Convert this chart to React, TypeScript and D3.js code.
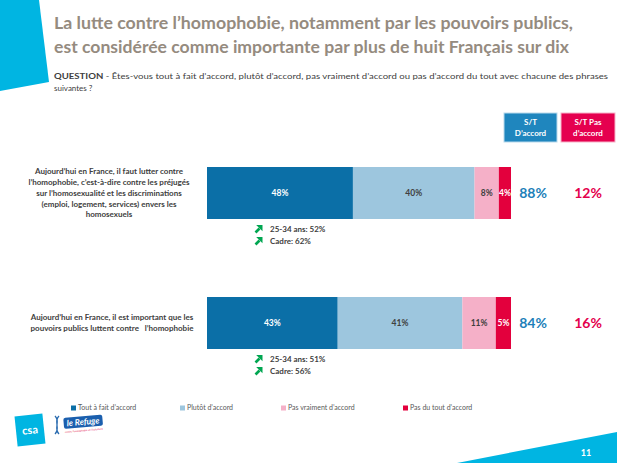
import React from "react";
import * as d3 from "d3";

// statements (already split in lines as on the slide)
const statements = [
  [
    "Aujourd’hui en France, il faut lutter contre",
    "l’homophobie, c’est-à-dire contre les préjugés",
    "sur l’homosexualité et les discriminations",
    "(emploi, logement, services) envers les",
    "homosexuels",
  ],
  [
    "Aujourd’hui en France, il est important que les",
    "pouvoirs publics luttent contre \u00a0\u00a0l’homophobie",
  ],
];

const seriesNames = [
  "Tout à fait d’accord",
  "Plutôt d’accord",
  "Pas vraiment d’accord",
  "Pas du tout d’accord",
];
const toutAFait = [48, 43];
const plutot = [40, 41];
const pasVraiment = [8, 11];
const pasDuTout = [4, 5];
const stAccord = [88, 84];
const stPasAccord = [12, 16];
const highlights = [
  ["25-34 ans: 52%", "Cadre: 62%"],
  ["25-34 ans: 51%", "Cadre: 56%"],
];

const colors = ["#0b6fa7", "#9dc6de", "#f5b0c8", "#e3003d"];
const labelColors = ["#ffffff", "#404040", "#404040", "#ffffff"];

const FONT = "Lato, 'Open Sans', sans-serif";
const TEXT = "#404040";

const Arrow = ({ x, y }: { x: number; y: number }) => (
  <g transform={`translate(${x},${y})`}>
    <path d="M0.5,7.5 L4.5,3.5" stroke="#00a651" strokeWidth={2.6} />
    <path d="M1.2,0 L7.5,0 L7.5,6.3 Z" fill="#00a651" />
  </g>
);

export default function App() {
  const rows = statements.map((s, i) => ({
    key: i,
    v0: toutAFait[i],
    v1: plutot[i],
    v2: pasVraiment[i],
    v3: pasDuTout[i],
  }));
  const stack = d3.stack<any>().keys(["v0", "v1", "v2", "v3"])(rows);

  const x = d3.scaleLinear().domain([0, 100]).range([207, 511]);
  const y = d3
    .scaleBand<number>()
    .domain(rows.map((r) => r.key))
    .range([167, 349])
    .paddingInner(0.6);

  const bw = y.bandwidth();
  const legendX = [71, 180, 281, 403];

  return (
    <svg
      width={617}
      height={463}
      style={{ position: "fixed", left: 0, top: 0, background: "#fff" }}
      fontFamily={FONT}
    >
      {/* decorative corners */}
      <path d="M0,0 L39,0 L49,82 L0,91 Z" fill="#00b5e2" />
      <path d="M457,463 L617,432 L617,463 Z" fill="#00b5e2" />
      <text x={586} y={456} fill="#fff" fontSize={9} fontWeight={700} textAnchor="middle">
        11
      </text>

      {/* title */}
      <g fill="#958b7f" fontWeight={700} fontSize={17}>
        <text x={54} y={29} textLength={519} lengthAdjust="spacingAndGlyphs">
          La lutte contre l’homophobie, notamment par les pouvoirs publics,
        </text>
        <text x={54} y={53} textLength={515} lengthAdjust="spacingAndGlyphs">
          est considérée comme importante par plus de huit Français sur dix
        </text>
      </g>

      <g fontSize={8} fill={TEXT}>
        <text x={54} y={79} textLength={554} lengthAdjust="spacingAndGlyphs">
          <tspan fontWeight={700}>QUESTION</tspan> - Êtes-vous tout à fait d’accord, plutôt d’accord, pas vraiment
          d’accord ou pas d’accord du tout avec chacune des phrases
        </text>
        <text x={54} y={91}>
          suivantes ?
        </text>
      </g>

      {/* S/T headers */}
      <rect x={504} y={113} width={53} height={29} fill="#1f86be" stroke="#b9d9ec" strokeWidth={1} />
      <rect x={561} y={113} width={54} height={29} fill="#e5004f" stroke="#f6b3c9" strokeWidth={1} />
      <g fill="#fff" fontWeight={700} fontSize={8} textAnchor="middle">
        <text x={530.5} y={125}>S/T</text>
        <text x={530.5} y={136}>D’accord</text>
        <text x={588} y={125}>S/T Pas</text>
        <text x={588} y={136}>d’accord</text>
      </g>

      {/* statements */}
      {statements.map((lines, i) => {
        const cy = (y(i) as number) + bw / 2;
        const top = cy - ((lines.length - 1) * 10.8) / 2;
        return (
          <g key={i} fontSize={8} fontWeight={700} fill={TEXT} textAnchor="middle">
            {lines.map((l, j) => (
              <text key={j} x={i === 0 ? 109 : 112} y={top + j * 10.8} dy="0.35em">
                {l}
              </text>
            ))}
          </g>
        );
      })}

      {/* stacked bars */}
      {stack.map((layer, si) => (
        <g key={si}>
          {layer.map((d, i) => {
            const x0 = x(d[0]);
            const x1 = x(d[1]);
            const v = d[1] - d[0];
            return (
              <g key={i}>
                <rect x={x0} y={y(i)} width={x1 - x0} height={bw} fill={colors[si]} />
                <text
                  x={(x0 + x1) / 2}
                  y={(y(i) as number) + bw / 2}
                  dy="0.35em"
                  textAnchor="middle"
                  fontSize={8.5}
                  fontWeight={700}
                  fill={labelColors[si]}
                >
                  {v}%
                </text>
              </g>
            );
          })}
        </g>
      ))}

      {/* S/T values */}
      {rows.map((r, i) => {
        const cy = (y(i) as number) + bw / 2;
        return (
          <g key={i} fontSize={14} fontWeight={700} textAnchor="middle">
            <text x={533} y={cy} dy="0.35em" fill="#1d7fb9">
              {stAccord[i]}%
            </text>
            <text x={588} y={cy} dy="0.35em" fill="#e4004c">
              {stPasAccord[i]}%
            </text>
          </g>
        );
      })}

      {/* highlights */}
      {highlights.map((h, i) => {
        const base = (y(i) as number) + bw + 10;
        return (
          <g key={i}>
            {h.map((t, j) => (
              <g key={j}>
                <Arrow x={255} y={base + j * 12 - 4} />
                <text x={270} y={base + j * 12} dy="0.35em" fontSize={8} fontWeight={700} fill={TEXT}>
                  {t}
                </text>
              </g>
            ))}
          </g>
        );
      })}

      {/* legend */}
      {seriesNames.map((n, i) => (
        <g key={i} transform={`translate(${legendX[i]},408)`}>
          <rect x={0} y={-2.5} width={5} height={5} fill={colors[i]} />
          <text x={7} y={0} dy="0.35em" fontSize={7} fill="#595959">
            {n}
          </text>
        </g>
      ))}

      {/* logos */}
      <g transform="translate(30,430) rotate(-6)">
        <rect x={-14} y={-15} width={28} height={30} fill="#00b5e2" />
        <text x={0} y={4} textAnchor="middle" fill="#fff" fontSize={11} fontWeight={700}>
          csa
        </text>
      </g>
      <g transform="translate(52,416)">
        <path d="M3,0 C9,6 1,12 7,18 M7,0 C1,6 9,12 3,18" stroke="#2b6cb0" strokeWidth={1.3} fill="none" />
        <g transform="rotate(-5)">
          <rect x={11} y={3} width={39} height={11} rx={2} fill="#1b5fae" />
          <text x={30.5} y={11.5} textAnchor="middle" fill="#fff" fontSize={8.5} fontWeight={700} fontStyle="italic">
            le Refuge
          </text>
          <text x={30.5} y={18} textAnchor="middle" fill="#e3003d" fontSize={2.5}>
            contre l’homophobie et l’isolement
          </text>
        </g>
      </g>
    </svg>
  );
}
